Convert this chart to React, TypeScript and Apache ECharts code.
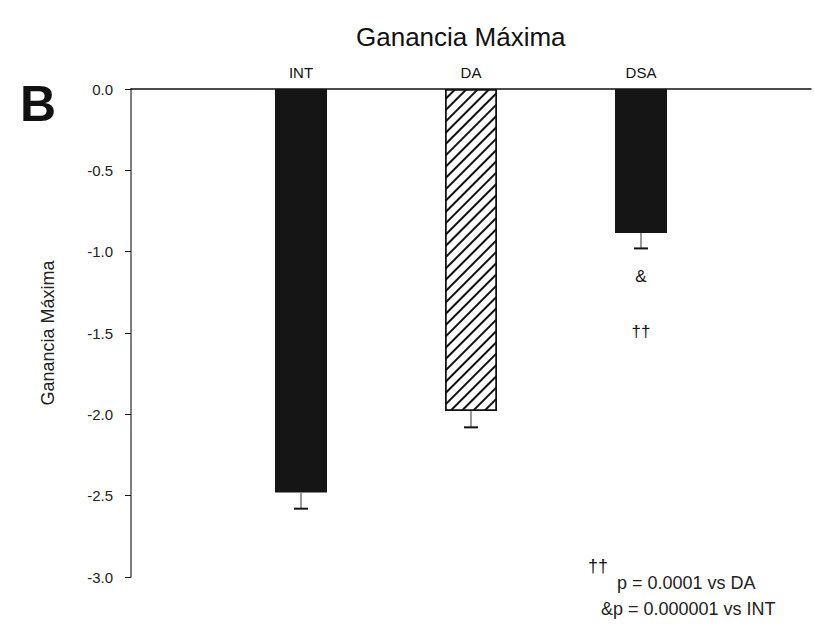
import React, { useEffect, useRef } from "react";
import * as echarts from "echarts";

const categories = ["INT", "DA", "DSA"];
const means = [-2.48, -1.98, -0.885];
const errors = [0.1, 0.1, 0.095];
const yTicks = [0, -0.5, -1.0, -1.5, -2.0, -2.5, -3.0];
const annotations = [
  { cat: "DSA", y: -1.155, text: "&" },
  { cat: "DSA", y: -1.49, text: "††" },
];
const footnotes = ["p = 0.0001 vs DA", "&p = 0.000001 vs INT"];

const FONT = "'Liberation Sans', Arial, sans-serif";

export default function App() {
  const ref = useRef<HTMLDivElement>(null);
  useEffect(() => {
    if (!ref.current) return;
    const chart = echarts.init(ref.current, null, { renderer: "svg" });
    const xData = ["", ...categories, ""];
    const barData: any[] = ["-"];
    means.forEach((m, i) => {
      if (i === 1) {
        barData.push({
          value: m,
          itemStyle: {
            color: "#ffffff",
            borderColor: "#111",
            borderWidth: 1.5,
            decal: {
              symbol: "rect",
              symbolSize: 1,
              color: "#111",
              dashArrayX: [1, 0],
              dashArrayY: [2, 6],
              rotation: -Math.PI / 4,
            },
          },
        });
      } else {
        barData.push({ value: m, itemStyle: { color: "#151515" } });
      }
    });
    barData.push("-");
    const errData = means.map((m, i) => [i + 1, m, m - errors[i]]);
    const annData = annotations.map((a) => [categories.indexOf(a.cat) + 1, a.y]);

    chart.setOption({
      animation: false,
      backgroundColor: "#fff",
      title: {
        text: "Ganancia Máxima",
        left: 351,
        top: 19,
        textStyle: { fontFamily: FONT, fontSize: 26, fontWeight: "normal", color: "#111" },
      },
      grid: { left: 131, width: 689, top: 89, bottom: 54 },
      xAxis: {
        type: "category",
        data: xData,
        boundaryGap: false,
        position: "top",
        axisLine: { show: true, lineStyle: { color: "#111", width: 1.5 } },
        axisTick: { show: false },
        axisLabel: {
          interval: 0,
          margin: 9,
          fontFamily: FONT,
          fontSize: 15,
          color: "#111",
        },
        splitLine: { show: false },
      },
      yAxis: {
        type: "value",
        min: yTicks[yTicks.length - 1],
        max: yTicks[0],
        interval: 0.5,
        name: "Ganancia Máxima",
        nameLocation: "middle",
        nameRotate: 90,
        nameGap: 74,
        nameTextStyle: { fontFamily: FONT, fontSize: 18, color: "#222" },
        axisLine: { show: true, onZero: false, lineStyle: { color: "#555", width: 1.5 } },
        axisTick: { show: true, length: 6, lineStyle: { color: "#111", width: 1 } },
        axisLabel: {
          margin: 18,
          fontFamily: FONT,
          fontSize: 15,
          color: "#222",
          formatter: (v: number) => v.toFixed(1),
        },
        splitLine: { show: false },
      },
      series: [
        {
          type: "bar",
          data: barData,
          barWidth: 52,
          z: 2,
        },
        {
          type: "custom",
          data: errData,
          z: 3,
          renderItem: (params: any, api: any) => {
            const x = api.value(0);
            const top = api.coord([x, api.value(1)]);
            const bot = api.coord([x, api.value(2)]);
            return {
              type: "group",
              children: [
                {
                  type: "line",
                  shape: { x1: top[0], y1: top[1], x2: bot[0], y2: bot[1] },
                  style: { stroke: "#777", lineWidth: 1.5 },
                },
                {
                  type: "line",
                  shape: { x1: bot[0] - 7, y1: bot[1], x2: bot[0] + 7, y2: bot[1] },
                  style: { stroke: "#111", lineWidth: 2 },
                },
              ],
            };
          },
        },
        {
          type: "custom",
          data: annData,
          z: 4,
          renderItem: (params: any, api: any) => {
            const p = api.coord([api.value(0), api.value(1)]);
            return {
              type: "text",
              x: p[0],
              y: p[1],
              style: {
                text: annotations[params.dataIndex].text,
                font: `17px ${FONT}`,
                fill: "#111",
                align: "center",
                verticalAlign: "middle",
              },
            };
          },
        },
      ],
      graphic: [
        {
          type: "text",
          left: 20,
          top: 79,
          style: { text: "B", font: `bold 50px ${FONT}`, fill: "#111" },
        },
        {
          type: "text",
          left: 588,
          top: 557,
          style: { text: "††", font: `18px ${FONT}`, fill: "#111" },
        },
        {
          type: "text",
          left: 617,
          top: 574,
          style: { text: footnotes[0], font: `18px ${FONT}`, fill: "#222" },
        },
        {
          type: "text",
          left: 601,
          top: 600,
          style: { text: footnotes[1], font: `18px ${FONT}`, fill: "#222" },
        },
      ],
    });
    return () => chart.dispose();
  }, []);
  return (
    <div
      ref={ref}
      style={{ position: "fixed", left: 0, top: 0, width: 814, height: 631, background: "#fff" }}
    />
  );
}
